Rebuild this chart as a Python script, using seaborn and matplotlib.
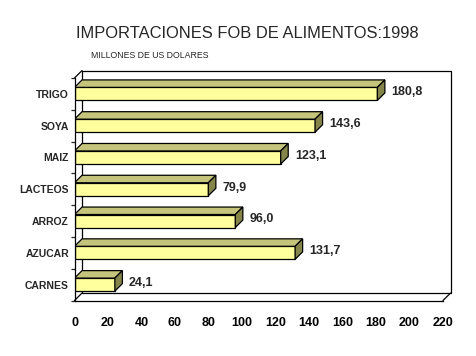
import numpy as np
import pandas as pd
import matplotlib
matplotlib.use('Agg')
import matplotlib.pyplot as plt
from matplotlib.patches import Polygon
from matplotlib.ticker import MultipleLocator
import seaborn as sns

# ==================== 数据 ====================
categories = ['TRIGO', 'SOYA', 'MAIZ', 'LACTEOS', 'ARROZ', 'AZUCAR', 'CARNES']
values = [180.8, 143.6, 123.1, 79.9, 96.0, 131.7, 24.1]
x_ticks = list(range(0, 221, 20))

title = 'IMPORTACIONES FOB DE ALIMENTOS:1998'
subtitle = 'MILLONES DE US DOLARES'

df = pd.DataFrame({'Producto': categories, 'Valor': values})

# ==================== 样式 ====================
sns.set_style('white')
plt.rcParams['font.family'] = ['Liberation Sans', 'DejaVu Sans']

FRONT = '#FFFF9E'
TOP = '#C4C47C'
SIDE = '#85854A'

fig = plt.figure(figsize=(4.76, 3.56), dpi=100)
W, H = 476, 356
ax = fig.add_axes([74.5 / W, (H - 300.5) / H, (443 - 74.5) / W, (300.5 - 78) / H])

sns.barplot(data=df, y='Producto', x='Valor', orient='h', color=FRONT,
            edgecolor='black', linewidth=0.9, width=0.41, saturation=1, ax=ax)

ax.set_xlim(0, 220)
ax.set_ylim(len(categories) - 0.5, -0.5)

# 3D 偏移（数据单位）
dx = 4.5
dy = 0.235

# 背景墙
y0, y1 = -0.5, len(categories) - 0.5
wall_kw = dict(color='black', lw=0.9, clip_on=False, zorder=0.5)
ax.plot([dx, 220 + dx, 220 + dx, dx, dx],
        [y0 - dy, y0 - dy, y1 - dy, y1 - dy, y0 - dy], **wall_kw)
ax.plot([0, dx], [y0, y0 - dy], **wall_kw)
ax.plot([0, dx], [y1, y1 - dy], **wall_kw)
ax.plot([220, 220 + dx], [y1, y1 - dy], **wall_kw)

# 立体柱：顶面与侧面
for p in ax.patches[:len(categories)]:
    x, y = p.get_x(), p.get_y()
    w, h = p.get_width(), p.get_height()
    top_y = min(y, y + h)
    bot_y = max(y, y + h)
    top = Polygon([(x, top_y), (x + w, top_y), (x + w + dx, top_y - dy), (x + dx, top_y - dy)],
                  closed=True, facecolor=TOP, edgecolor='black', lw=0.9, zorder=3)
    side = Polygon([(x + w, top_y), (x + w, bot_y), (x + w + dx, bot_y - dy), (x + w + dx, top_y - dy)],
                   closed=True, facecolor=SIDE, edgecolor='black', lw=0.9, zorder=3)
    ax.add_patch(top)
    ax.add_patch(side)

# 数值标签
for i, v in enumerate(values):
    ax.text(v + 8.5, i - 0.05, f'{v:.1f}'.replace('.', ','), ha='left', va='center',
            fontsize=9, fontweight='bold')

# 坐标轴
for s in ['top', 'right']:
    ax.spines[s].set_visible(False)
for s in ['left', 'bottom']:
    ax.spines[s].set_linewidth(0.9)
    ax.spines[s].set_color('black')

ax.set_xticks(x_ticks)
ax.set_xticklabels([str(t) for t in x_ticks], fontsize=9, fontweight='bold')
ax.tick_params(axis='x', direction='out', length=4, width=0.9, pad=8, colors='black')
ax.set_yticks(range(len(categories)))
ax.set_yticklabels(categories, fontsize=7.5, fontweight='bold')
ax.tick_params(axis='y', which='major', length=0, pad=4)
ax.yaxis.set_minor_locator(MultipleLocator(1, offset=0.5))
ax.tick_params(axis='y', which='minor', direction='out', length=3, width=0.9, left=True)
ax.set_xlabel('')
ax.set_ylabel('')
ax.grid(False)
ax.patch.set_alpha(0)

fig.text(247 / W, 1 - 33 / H, title, ha='center', va='center', fontsize=11.9)
fig.text(91 / W, 1 - 56 / H, subtitle, ha='left', va='center', fontsize=6.3)

fig.savefig('out.png', dpi=100, facecolor='white')
plt.close(fig)
